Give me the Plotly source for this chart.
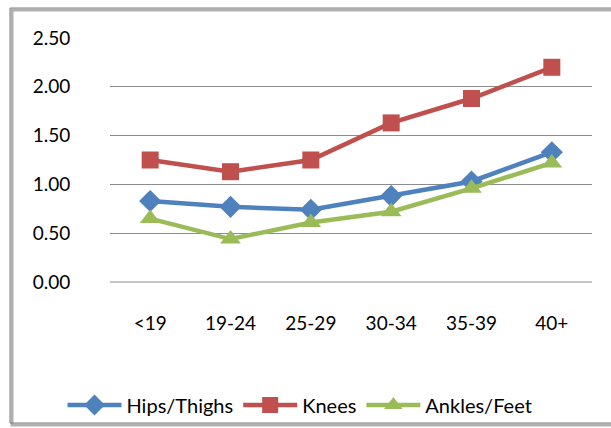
import plotly.graph_objects as go

categories = ["<19", "19-24", "25-29", "30-34", "35-39", "40+"]
hips_thighs = [0.83, 0.77, 0.74, 0.88, 1.03, 1.33]
knees = [1.25, 1.13, 1.25, 1.63, 1.88, 2.20]
ankles_feet = [0.65, 0.44, 0.61, 0.72, 0.96, 1.22]
y_ticks = [0, 0.5, 1.0, 1.5, 2.0, 2.5]
y_tick_labels = ["0.00", "0.50", "1.00", "1.50", "2.00", "2.50"]

FONT = "Lato, 'Open Sans', sans-serif"

fig = go.Figure()
series = [
    ("Hips/Thighs", hips_thighs, "#4F81BD", "diamond", 17),
    ("Knees", knees, "#C0504D", "square", 17),
    ("Ankles/Feet", ankles_feet, "#9BBB59", "triangle-up", 18),
]
for name, vals, color, sym, size in series:
    fig.add_trace(go.Scatter(
        x=categories, y=vals, name=name, mode="lines+markers",
        line=dict(color=color, width=4.5),
        marker=dict(symbol=sym, size=size, color=color, line=dict(width=0)),
    ))

L, R, T, B = 110, 19, 38, 146
W, H = 611, 428
pw = W - L - R
ph = H - T - B

def px(x):
    return (x - L) / pw

def py(y):
    return (H - B - y) / ph

fig.update_layout(
    template="none",
    width=W, height=H,
    margin=dict(l=L, r=R, t=T, b=B, autoexpand=False),
    paper_bgcolor="white", plot_bgcolor="white",
    font=dict(family=FONT, size=19, color="black"),
    showlegend=True,
    legend=dict(orientation="h", x=300 / W, xanchor="center", xref="container",
                y=1 - 405 / H, yanchor="middle", yref="container",
                font=dict(size=20), itemwidth=54, tracegroupgap=0,
                bgcolor="rgba(0,0,0,0)"),
    xaxis=dict(type="category", showgrid=False, showline=False, zeroline=False,
               automargin=False,
               ticks="outside", ticklen=24, tickcolor="rgba(0,0,0,0)",
               tickfont=dict(size=19), range=[-0.5, 5.5]),
    yaxis=dict(range=[0, 2.5], tickvals=y_ticks, ticktext=y_tick_labels,
               automargin=False,
               showgrid=True, gridcolor="#8C8C8C", gridwidth=1, zeroline=False,
               showline=False, ticks="outside", ticklen=35, tickcolor="rgba(0,0,0,0)",
               tickfont=dict(size=19)),
    shapes=[
        dict(type="line", xref="paper", yref="paper", x0=0, x1=1, y0=0, y1=0,
             line=dict(color="#8C8C8C", width=1), layer="below"),
        dict(type="rect", xref="paper", yref="paper",
             x0=px(12), x1=px(614), y0=py(425), y1=py(10),
             line=dict(color="#B0B0B0", width=3)),
        dict(type="rect", xref="paper", yref="paper",
             x0=px(10), x1=px(612), y0=py(423), y1=py(8),
             line=dict(color="#7F7F7F", width=1)),
    ],
)

fig.write_html("out.html", config={"displayModeBar": False},
               post_script="document.body.style.margin='0';document.body.style.overflow='hidden';")
